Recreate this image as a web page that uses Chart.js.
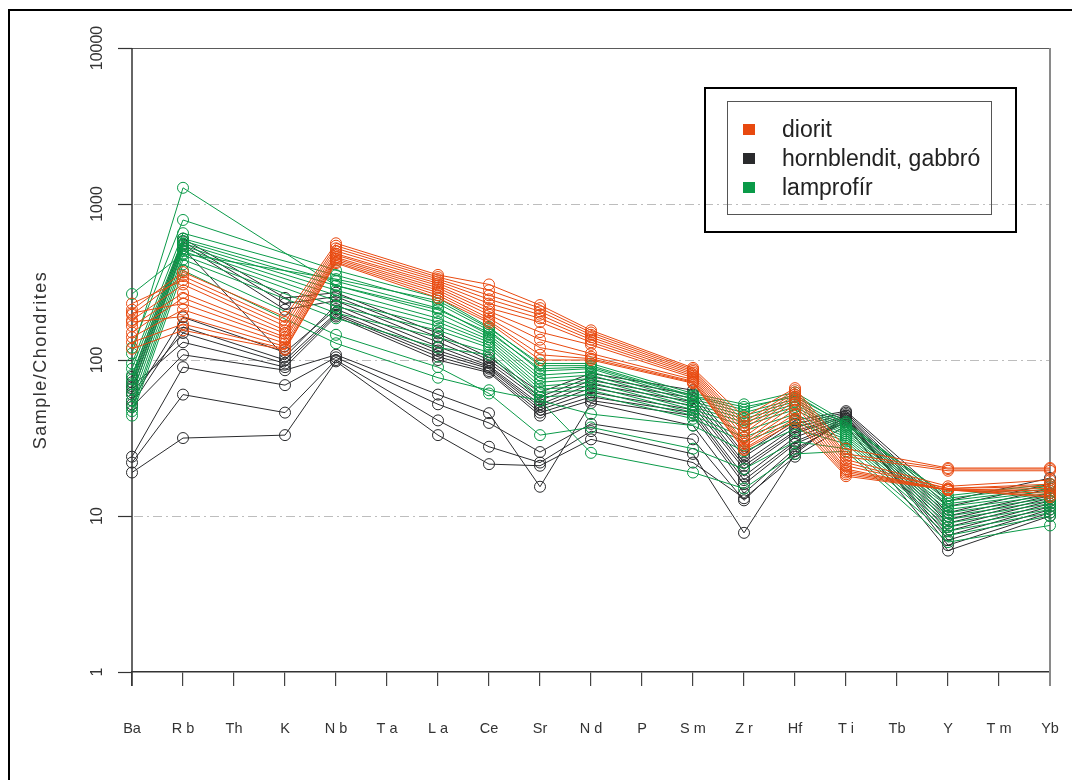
<!DOCTYPE html>
<html>
<head>
<meta charset="utf-8">
<script src="https://cdn.jsdelivr.net/npm/chart.js@4.4.1/dist/chart.umd.min.js"></script>
<style>
  html, body { margin: 0; padding: 0; background: #ffffff; }
  #wrap { width: 1072px; height: 780px; }
</style>
</head>
<body>
<div id="wrap"><canvas id="spider" width="1072" height="780"></canvas></div>
<script>
// Element order along the x axis (chondrite-normalised spider diagram)
const elements = ['Ba','Rb','Th','K','Nb','Ta','La','Ce','Sr','Nd','P','Sm','Zr','Hf','Ti','Tb','Y','Tm','Yb'];
const tickLabels = ['Ba','R b','Th','K','N b','T a','L a','Ce','Sr','N d','P','S m','Z r','Hf','T i','Tb','Y','T m','Yb'];
// Elements actually analysed; the others are left blank and the lines span them
const measured = ['Ba','Rb','K','Nb','La','Ce','Sr','Nd','Sm','Zr','Hf','Ti','Y','Yb'];
const yTickValues = [1, 10, 100, 1000, 10000];

// Sample/Chondrite values, one row per sample, in the order of `measured`
const dioritSamples = [
  [210, 366, 189, 560, 351, 305, 225, 155, 89, 43, 66, 27, 20.3, 20.3],
  [195, 345, 175, 540, 340, 280, 215, 150, 87, 40, 64, 25, 20, 20],
  [230, 325, 165, 520, 330, 260, 205, 145, 85, 38, 62, 24, 19.5, 19.5],
  [180, 305, 155, 500, 320, 245, 195, 140, 83, 36, 60, 23, 15.5, 17],
  [165, 269, 148, 480, 310, 230, 185, 135, 81, 34, 58, 22, 15, 16],
  [150, 250, 140, 470, 300, 215, 175, 130, 79, 32, 55, 21, 15, 15.5],
  [200, 230, 135, 455, 290, 205, 151, 125, 77, 30, 52, 20, 14.7, 15],
  [140, 210, 128, 445, 280, 195, 135, 110, 75, 29, 48, 19.5, 14.7, 14.5],
  [175, 190, 122, 435, 270, 185, 120, 105, 73, 28, 45, 19, 14.7, 14],
  [130, 170, 118, 425, 260, 178, 108, 102, 72, 27, 42, 18.5, 14.7, 13.5],
  [118, 155, 116, 418, 250, 173, 100, 100, 71, 26.5, 40, 18, 14.7, 13.2]
];
const hornblenditSamples = [
  [78, 600, 250, 270, 148, 104, 62, 82, 64, 25, 41, 47, 12.5, 17.5],
  [72, 575, 230, 255, 140, 100, 58, 78, 60, 24, 39, 46, 11.5, 16],
  [66, 550, 210, 240, 130, 96, 55, 74, 57, 22, 37, 45, 10.5, 15],
  [60, 520, 105, 225, 122, 92, 52, 70, 54, 21, 35, 44, 10, 14],
  [55, 188, 112, 212, 115, 90, 50, 66, 51, 20, 34, 43, 9.5, 13.5],
  [52, 163, 100, 200, 110, 88, 48, 62, 48, 18, 32, 42, 9, 13],
  [62, 149, 95, 195, 105, 85, 46, 58, 46, 17, 30, 41, 8.5, 12.5],
  [68, 130, 90, 190, 100, 83, 44, 55, 44, 16, 29, 40, 8, 12],
  [50, 108, 86, 108, 60, 45.6, 15.4, 53, 38, 14, 27, 40, 7.5, 11.5],
  [24, 90, 69, 104, 52, 39.5, 25.7, 39, 31, 12.6, 26, 42, 7, 11],
  [22, 60, 46, 100, 41, 27.8, 22, 35, 25, 7.8, 25, 44, 6.5, 10.5],
  [19, 31.6, 33, 98, 33, 21.5, 21, 31, 22, 13, 24, 38, 6, 10]
];
const lamprofirSamples = [
  [110, 1270, null, 300, 210, 150, 88, 90, 58, 48, 60, 38, 13.5, 16],
  [265, 480, null, 330, 240, 160, 95, 95, 61, 52, 62, 40, 13, 15.5],
  [120, 790, null, 376, 250, 163, 92, 92, 59, 50, 58, 39, 12.5, 15],
  [95, 650, null, 350, 230, 155, 85, 88, 56, 46, 56, 37, 12, 14.5],
  [88, 600, null, 320, 215, 145, 80, 84, 54, 44, 54, 36, 11.5, 14],
  [80, 580, null, 300, 200, 140, 76, 80, 52, 42, 52, 35, 11, 13.5],
  [75, 560, null, 280, 185, 135, 72, 76, 50, 40, 50, 34, 10.5, 13],
  [70, 540, null, 260, 175, 130, 68, 72, 48, 38, 48, 33, 10, 12.5],
  [65, 520, null, 240, 165, 125, 65, 68, 46, 35, 45, 32, 9.5, 12],
  [60, 500, null, 220, 155, 120, 62, 64, 44, 32, 42, 31, 9, 11.5],
  [55, 470, null, 200, 140, 112, 58, 60, 42, 30, 40, 30, 8.5, 11],
  [50, 440, null, 185, 120, 108, 55, 45, 38, 26, 36, 29, 8, 10.5],
  [47, 410, null, 145, 90, 61, 33, 37, 27, 20, 30, 27, 7.5, 10],
  [44, 375, null, 128, 77, 64, 55, 25.4, 19, 15, 25, 26, 6.8, 8.7]
];

const groups = [
  { name: 'diorit', color: '#E8490F', rows: dioritSamples },
  { name: 'hornblendit, gabbró', color: '#2A2B2D', rows: hornblenditSamples },
  { name: 'lamprofír', color: '#0A9A48', rows: lamprofirSamples }
];

// Spread a measured row over the full element list
function expandRow(row) {
  return elements.map(el => {
    const i = measured.indexOf(el);
    return i < 0 ? null : row[i];
  });
}

// Draw order: diorit on top, then lamprofír, hornblendit at the back
const drawRank = { 'diorit': 0, 'lamprofír': 1, 'hornblendit, gabbró': 2 };
const datasets = [];
groups.forEach(g => {
  g.rows.forEach((row, k) => {
    datasets.push({
      label: g.name + ' ' + (k + 1),
      data: expandRow(row),
      borderColor: g.color,
      backgroundColor: 'rgba(255,255,255,0)',
      borderWidth: 1,
      pointRadius: 5.5,
      pointBorderWidth: 1,
      pointBackgroundColor: 'rgba(255,255,255,0)',
      pointBorderColor: g.color,
      spanGaps: true,
      tension: 0,
      order: drawRank[g.name]
    });
  });
});

const FONT = '"Liberation Sans", Arial, sans-serif';

const decor = {
  id: 'decor',
  beforeDatasetsDraw(chart) {
    const ctx = chart.ctx;
    const ys = chart.scales.y;
    const { left, right, top, bottom } = chart.chartArea;
    ctx.save();
    // dash-dot horizontal grid lines
    ctx.strokeStyle = '#bdbdbd';
    ctx.lineWidth = 1;
    ctx.setLineDash([9, 4, 2, 4]);
    [10, 100, 1000].forEach(v => {
      const y = Math.round(ys.getPixelForValue(v)) + 0.5;
      ctx.beginPath(); ctx.moveTo(left + 2, y); ctx.lineTo(right, y); ctx.stroke();
    });
    ctx.setLineDash([]);
    // top frame line and right frame line
    ctx.strokeStyle = '#5a5a5a';
    ctx.beginPath(); ctx.moveTo(118, top + 0.5); ctx.lineTo(right, top + 0.5); ctx.stroke();
    ctx.strokeStyle = '#8a8a8a';
    ctx.lineWidth = 2;
    ctx.beginPath(); ctx.moveTo(right, top); ctx.lineTo(right, bottom + 14); ctx.stroke();
    // y axis line with tick marks
    ctx.strokeStyle = '#333333';
    ctx.lineWidth = 1.5;
    ctx.beginPath(); ctx.moveTo(left, top); ctx.lineTo(left, bottom + 14); ctx.stroke();
    ctx.lineWidth = 1.2;
    yTickValues.forEach(v => {
      const y = Math.round(ys.getPixelForValue(v)) + 0.5;
      ctx.beginPath(); ctx.moveTo(118, y); ctx.lineTo(left, y); ctx.stroke();
    });
    ctx.restore();
  },
  afterDraw(chart) {
    const ctx = chart.ctx;
    const ys = chart.scales.y;
    ctx.save();
    // outer figure frame
    ctx.strokeStyle = '#000000';
    ctx.lineWidth = 2;
    ctx.strokeRect(9, 10, 1100, 820);
    // y tick labels, rotated
    ctx.fillStyle = '#333333';
    ctx.font = '16px ' + FONT;
    ctx.textAlign = 'center';
    ctx.textBaseline = 'middle';
    yTickValues.forEach(v => {
      const y = ys.getPixelForValue(v);
      ctx.save();
      ctx.translate(98, y);
      ctx.rotate(-Math.PI / 2);
      ctx.fillText(String(v), 0, 0);
      ctx.restore();
    });
    // y axis title
    ctx.save();
    ctx.font = '18px ' + FONT;
    ctx.letterSpacing = '1.5px';
    ctx.translate(41, 360);
    ctx.rotate(-Math.PI / 2);
    ctx.fillText('Sample/Chondrites', 0, 0);
    ctx.restore();
    // legend
    ctx.lineWidth = 2;
    ctx.strokeStyle = '#000000';
    ctx.strokeRect(705, 88, 311, 144);
    ctx.lineWidth = 1;
    ctx.strokeStyle = '#555555';
    ctx.strokeRect(727.5, 101.5, 264, 113);
    ctx.font = '23px ' + FONT;
    ctx.textAlign = 'left';
    ctx.textBaseline = 'middle';
    const rowsY = [130, 159, 188];
    groups.forEach((g, i) => {
      ctx.fillStyle = g.color;
      ctx.fillRect(743, rowsY[i] - 6, 12, 11);
      ctx.fillStyle = '#222222';
      ctx.fillText(g.name, 782, rowsY[i] + 1);
    });
    ctx.restore();
  }
};

new Chart(document.getElementById('spider'), {
  type: 'line',
  data: { labels: tickLabels, datasets },
  options: {
    responsive: false,
    animation: false,
    events: [],
    layout: { padding: { left: 0, right: 22, top: 48, bottom: 0 } },
    plugins: { legend: { display: false }, tooltip: { enabled: false } },
    scales: {
      x: {
        type: 'category',
        offset: false,
        grid: { drawOnChartArea: false, drawTicks: true, tickLength: 14, color: '#444444', lineWidth: 1.2 },
        border: { display: true, color: '#333333', width: 1.5 },
        ticks: {
          autoSkip: false, maxRotation: 0, minRotation: 0,
          color: '#333333', padding: 34,
          font: { family: FONT, size: 14.5 }
        },
        afterFit(scale) {
          scale.height = 108;
          // labels at both ends fit inside the layout padding
          scale.paddingLeft = 0;
          scale.paddingRight = 0;
        }
      },
      y: {
        type: 'logarithmic',
        min: 1, max: 10000,
        grid: { display: false },
        border: { display: false },
        ticks: { display: false },
        afterBuildTicks(scale) { scale.ticks = yTickValues.map(v => ({ value: v })); },
        afterFit(scale) { scale.width = 132; }
      }
    }
  },
  plugins: [decor]
});
</script>
</body>
</html>
